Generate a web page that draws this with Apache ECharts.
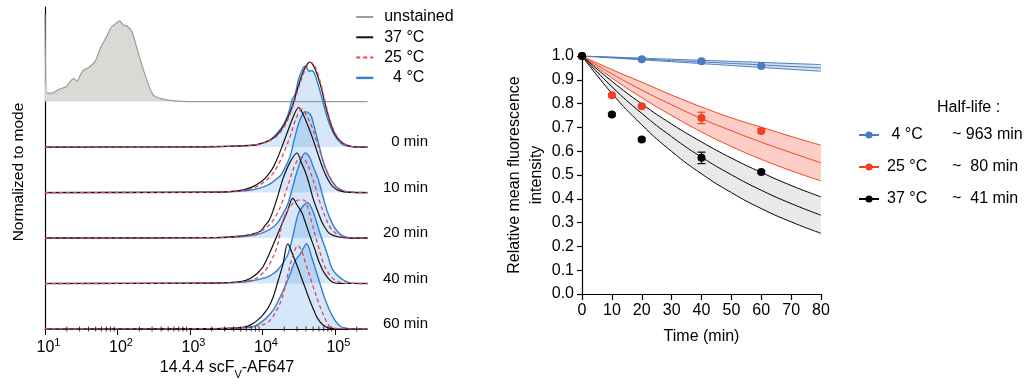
<!DOCTYPE html>
<html>
<head>
<meta charset="utf-8">
<script src="https://cdn.jsdelivr.net/npm/echarts@6/dist/echarts.min.js"></script>
<style>
  html, body { margin: 0; padding: 0; background: #fff; }
  #chart { width: 1031px; height: 389px; }
</style>
</head>
<body>
<div id="chart"></div>
<script>
// ---------- left panel: histograms, [log10 intensity, % of mode]
const unstained = [[1.0,103],[1.025,10],[1.1,10],[1.18,14],[1.3,18],[1.36,25],[1.4,27],[1.44,24],[1.52,36],[1.6,40],[1.69,47],[1.76,62],[1.84,75],[1.92,88],[1.98,92],[2.03,95],[2.08,90],[2.13,89],[2.2,82],[2.27,62],[2.34,42],[2.41,24],[2.49,8],[2.6,3.5],[2.75,1.2],[2.9,0.3],[3.1,0],[5.45,0]];

const black0 = [[1.0,0],[3.2,0.3],[3.6,1],[3.9,2.4],[4.0,4.7],[4.1,8],[4.2,14],[4.3,26],[4.4,45],[4.5,73],[4.58,92],[4.655,100],[4.72,93],[4.8,73],[4.9,39],[5.0,15],[5.1,5],[5.2,1.2],[5.3,0.2],[5.45,0]];
const red0 = [[1.0,0],[3.2,0.3],[3.6,1],[3.9,2.3],[4.0,4.5],[4.1,7.5],[4.2,13],[4.3,24],[4.4,43],[4.5,70],[4.59,91],[4.665,100],[4.73,94],[4.8,76],[4.9,42],[5.0,17],[5.1,5.5],[5.2,1.4],[5.3,0.2],[5.45,0]];
const blue0 = [[1.0,0],[3.2,0.4],[3.6,1.2],[3.9,2.6],[4.0,4.7],[4.1,8],[4.2,16],[4.3,28],[4.36,40],[4.41,56],[4.45,62],[4.5,80],[4.56,93],[4.6,95],[4.64,89],[4.68,90],[4.72,86],[4.8,64],[4.9,33],[5.0,13],[5.1,3.5],[5.2,1],[5.3,0.2],[5.45,0]];

const black10 = [[1.0,0],[3.3,0.4],[3.6,1.5],[3.75,3.5],[3.87,7],[4.0,14],[4.06,19],[4.13,27],[4.2,39],[4.27,54],[4.34,70],[4.42,88],[4.5,100],[4.56,92],[4.63,78],[4.7,62],[4.77,44],[4.84,27],[4.9,16],[4.97,7],[5.07,2],[5.2,0.3],[5.45,0]];
const red10 = [[1.0,0],[3.3,0.4],[3.6,1.4],[3.8,3.5],[3.9,6],[4.0,11],[4.1,18],[4.18,27],[4.25,38],[4.32,52],[4.39,68],[4.46,86],[4.545,98],[4.6,92],[4.67,80],[4.74,63],[4.81,44],[4.88,27],[4.95,15],[5.02,7],[5.1,2.5],[5.2,0.5],[5.45,0]];
const blue10 = [[1.0,0],[3.3,0.4],[3.6,1.2],[3.8,2.5],[3.95,5],[4.08,9],[4.18,15],[4.25,20],[4.31,29],[4.38,42],[4.45,66],[4.52,86],[4.59,95],[4.66,92],[4.7,82],[4.77,59],[4.86,31],[4.96,13],[5.07,3.5],[5.2,0.6],[5.45,0]];

const black20 = [[1.0,0],[3.3,0.4],[3.69,2.4],[3.85,4.5],[3.97,8],[4.03,14],[4.1,22],[4.2,46],[4.28,69],[4.38,89],[4.476,100],[4.53,90],[4.59,78],[4.65,62],[4.7,46],[4.76,32],[4.82,19],[4.88,10],[4.93,5],[5.05,1.2],[5.2,0],[5.45,0]];
const red20 = [[1.0,0],[3.3,0.4],[3.7,2],[3.9,5],[4.0,9],[4.1,16],[4.2,28],[4.28,44],[4.36,64],[4.44,84],[4.53,95],[4.6,90],[4.66,78],[4.73,60],[4.8,40],[4.87,24],[4.94,12],[5.02,5],[5.1,1.5],[5.2,0.3],[5.45,0]];
const blue20 = [[1.0,0],[3.3,0.4],[3.7,1.5],[3.9,3.5],[4.0,6],[4.1,10],[4.2,17],[4.28,28],[4.35,40],[4.42,61],[4.5,84],[4.59,100],[4.65,95],[4.7,84],[4.77,69],[4.84,47],[4.9,30],[4.97,16],[5.04,7],[5.12,2.2],[5.2,0.5],[5.45,0]];

const black40 = [[1.0,0],[3.3,0.4],[3.65,1.8],[3.78,4],[3.87,8],[3.94,13],[4.01,20],[4.1,36],[4.17,50],[4.24,64],[4.34,84],[4.42,100],[4.48,92],[4.54,84],[4.6,70],[4.66,55],[4.72,41],[4.77,28],[4.83,16],[4.89,8],[4.97,1.5],[5.1,0],[5.45,0]];
const red40 = [[1.0,0],[3.3,0.4],[3.7,1.8],[3.85,4],[3.95,8],[4.08,20],[4.2,43],[4.28,73],[4.36,88],[4.43,95],[4.49,98],[4.57,98],[4.63,88],[4.68,72],[4.77,44],[4.86,20],[4.96,7],[5.05,2],[5.15,0.3],[5.45,0]];
const blue40 = [[1.0,0],[3.3,0.4],[3.7,1.5],[3.9,4],[4.0,6],[4.08,8],[4.21,16],[4.34,32],[4.41,52],[4.49,81],[4.55,90],[4.62,95],[4.7,84],[4.79,60],[4.89,36],[4.97,16],[5.1,5],[5.2,1],[5.3,0.2],[5.45,0]];

const black60 = [[1.0,0],[3.3,0.4],[3.6,1],[3.76,2.4],[3.86,6],[3.94,11],[4.01,17],[4.08,25],[4.15,38],[4.21,55],[4.28,75],[4.35,100],[4.42,87],[4.48,74],[4.54,60],[4.6,46],[4.66,32],[4.71,22],[4.75,14],[4.83,5],[4.92,1],[5.05,0],[5.45,0]];
const red60 = [[1.0,0],[3.3,0.4],[3.7,1.5],[3.9,3.5],[4.0,5],[4.08,8],[4.17,18],[4.27,36],[4.35,64],[4.42,86],[4.49,98],[4.54,92],[4.59,79],[4.68,55],[4.77,32],[4.86,13],[4.93,3],[5.05,0.5],[5.45,0]];
const blue60 = [[1.0,0],[3.3,0.4],[3.7,1.2],[3.86,2.4],[3.95,6],[4.03,11],[4.1,17],[4.17,25],[4.28,44],[4.38,64],[4.45,80],[4.52,88],[4.61,100],[4.68,84],[4.77,60],[4.86,36],[4.96,16],[5.07,3.5],[5.2,0.5],[5.45,0]];

const rowLabels = ['0 min', '10 min', '20 min', '40 min', '60 min'];
const rowBlack = [black0, black10, black20, black40, black60];
const rowRed = [red0, red10, red20, red40, red60];
const rowBlue = [blue0, blue10, blue20, blue40, blue60];

// ---------- right panel: decay
const timeBlue = [0, 20, 40, 60];
const meanBlue = [1.0, 0.986, 0.978, 0.958];
const semBlue = [0, 0.004, 0.004, 0.005];
const timeRed = [0, 10, 20, 40, 60];
const meanRed = [1.0, 0.835, 0.789, 0.74, 0.685];
const semRed = [0, 0.006, 0.006, 0.024, 0.008];
const timeBlack = [0, 10, 20, 40, 60];
const meanBlack = [1.0, 0.754, 0.649, 0.572, 0.513];
const semBlack = [0, 0.006, 0.006, 0.024, 0.006];

const fitT = [0, 10, 20, 30, 40, 50, 60, 70, 80];
const fit4 = [1, 0.994, 0.9875, 0.981, 0.975, 0.969, 0.9625, 0.956, 0.95];
const hi4 = [1, 0.9955, 0.991, 0.9865, 0.982, 0.9775, 0.973, 0.9685, 0.964];
const lo4 = [1, 0.992, 0.984, 0.976, 0.968, 0.96, 0.952, 0.944, 0.936];
const fit25 = [1, 0.925, 0.857, 0.795, 0.737, 0.686, 0.638, 0.594, 0.551];
const hi25 = [1, 0.943, 0.89, 0.836, 0.786, 0.74, 0.701, 0.662, 0.625];
const lo25 = [1, 0.908, 0.825, 0.75, 0.681, 0.62, 0.566, 0.518, 0.475];
const fit37 = [1, 0.871, 0.759, 0.661, 0.575, 0.501, 0.436, 0.38, 0.331];
const hi37 = [1, 0.894, 0.799, 0.714, 0.639, 0.571, 0.511, 0.456, 0.408];
const lo37 = [1, 0.843, 0.711, 0.599, 0.505, 0.426, 0.359, 0.303, 0.255];

const tempLabels = [' 4 °C', '25 °C', '37 °C'];
const halfLives = ['~ 963 min', '~  80 min', '~  41 min'];

const FONT = 'Liberation Sans, Arial, sans-serif';
const PEAK = 1.87;      // height of 100 % of mode, in row units
const BLUE_L = '#2f7fd6', RED_L = '#e8434c';
const BLUE_R = '#4a7cc2', RED_R = '#f1401f';

const chart = echarts.init(document.getElementById('chart'));

function toXY(pts, off) {
  return pts.map(p => [Math.pow(10, p[0]), off + p[1] / 100 * PEAK]);
}

const series = [];

// unstained on top row
series.push({
  type: 'line', name: 'unstained', xAxisIndex: 0, yAxisIndex: 0,
  data: toXY(unstained, 5), smooth: 0.2, symbol: 'none', silent: true,
  itemStyle: { color: '#9b9b9b' },
  lineStyle: { color: '#9b9b9b', width: 1.2 },
  areaStyle: { color: '#d9d9d5', opacity: 1, origin: 5 }
});

for (let i = 0; i < rowLabels.length; i++) {
  const off = 4 - i;
  series.push({
    type: 'line', name: '4 °C', xAxisIndex: 0, yAxisIndex: 0,
    data: toXY(rowBlue[i], off), smooth: 0.35, symbol: 'none', silent: true,
    itemStyle: { color: BLUE_L },
    lineStyle: { color: BLUE_L, width: 1.4 },
    areaStyle: { color: 'rgba(60,140,225,0.3)', origin: off }
  });
  series.push({
    type: 'line', name: '37 °C', xAxisIndex: 0, yAxisIndex: 0,
    data: toXY(rowBlack[i], off), smooth: 0.35, symbol: 'none', silent: true,
    itemStyle: { color: '#111' },
    lineStyle: { color: '#111', width: 1.2 }
  });
  series.push({
    type: 'line', name: '25 °C', xAxisIndex: 0, yAxisIndex: 0,
    data: toXY(rowRed[i], off), smooth: 0.35, symbol: 'none', silent: true,
    itemStyle: { color: RED_L },
    lineStyle: { color: RED_L, width: 1.3, type: [4, 3] }
  });
}

// log minor ticks on the left x axis
const minorTicks = [];
for (let k = 1; k <= 5; k++) {
  for (let d = 2; d <= 9; d++) {
    if (d * Math.pow(10, k) < 277000) minorTicks.push([d * Math.pow(10, k), 0]);
  }
}
series.push({
  type: 'scatter', xAxisIndex: 0, yAxisIndex: 0, data: minorTicks, silent: true,
  symbol: 'rect', symbolSize: [1, 5], itemStyle: { color: '#000' }, z: 10
});

// right panel bands, fits, points
const temps = [
  { key: 'hl4', color: BLUE_R, band: 'rgba(75,123,192,0.22)', fit: fit4, hi: hi4, lo: lo4, t: timeBlue, m: meanBlue, s: semBlue },
  { key: 'hl25', color: RED_R, band: 'rgba(245,80,50,0.28)', fit: fit25, hi: hi25, lo: lo25, t: timeRed, m: meanRed, s: semRed },
  { key: 'hl37', color: '#000', band: '#e9e9e9', fit: fit37, hi: hi37, lo: lo37, t: timeBlack, m: meanBlack, s: semBlack }
];

// confidence band: polygon between the upper and lower fit lines
temps.forEach(tp => {
  series.push({
    type: 'custom', xAxisIndex: 1, yAxisIndex: 1, silent: true, z: 1,
    data: [[0, 1]],
    renderItem: function (params, api) {
      const pts = [];
      fitT.forEach((t, j) => pts.push(api.coord([t, tp.hi[j]])));
      for (let j = fitT.length - 1; j >= 0; j--) pts.push(api.coord([fitT[j], tp.lo[j]]));
      return { type: 'polygon', shape: { points: pts }, style: { fill: tp.band } };
    }
  });
});

temps.forEach(tp => {
  series.push({
    type: 'line', name: tp.key, xAxisIndex: 1, yAxisIndex: 1, silent: true,
    data: fitT.map((t, j) => [t, tp.fit[j]]), smooth: true,
    symbol: 'circle', symbolSize: 8, showSymbol: false,
    itemStyle: { color: tp.color }, lineStyle: { color: tp.color, width: 1 }
  });
  [tp.hi, tp.lo].forEach(arr => {
    series.push({
      type: 'line', xAxisIndex: 1, yAxisIndex: 1, silent: true,
      data: fitT.map((t, j) => [t, arr[j]]), smooth: true, symbol: 'none',
      lineStyle: { color: tp.color, width: 1 }
    });
  });
});

temps.forEach(tp => {
  series.push({
    type: 'custom', xAxisIndex: 1, yAxisIndex: 1, silent: true, z: 5,
    data: tp.t.map((t, j) => [t, tp.m[j], tp.s[j]]),
    renderItem: function (params, api) {
      const x = api.value(0), y = api.value(1), e = api.value(2);
      const a = api.coord([x, y + e]), b = api.coord([x, y - e]);
      const st = { stroke: tp.color, lineWidth: 1.2 };
      return {
        type: 'group', children: [
          { type: 'line', shape: { x1: a[0], y1: a[1], x2: b[0], y2: b[1] }, style: st },
          { type: 'line', shape: { x1: a[0] - 4, y1: a[1], x2: a[0] + 4, y2: a[1] }, style: st },
          { type: 'line', shape: { x1: b[0] - 4, y1: b[1], x2: b[0] + 4, y2: b[1] }, style: st }
        ]
      };
    }
  });
  series.push({
    type: 'scatter', xAxisIndex: 1, yAxisIndex: 1, silent: true, z: 6,
    data: tp.t.map((t, j) => [t, tp.m[j]]), symbol: 'circle', symbolSize: 8,
    itemStyle: { color: tp.color, opacity: 1 }
  });
});

const axisTxt = { color: '#000', fontFamily: FONT, fontSize: 16 };

const option = {
  animation: false,
  backgroundColor: '#fff',
  textStyle: { fontFamily: FONT },
  grid: [
    { left: 45, top: 7, width: 322, height: 322 },
    { left: 582, top: 56, width: 239, height: 238 }
  ],
  xAxis: [
    {
      type: 'log', logBase: 10, gridIndex: 0, min: 10, max: 277000,
      axisLine: { show: true, lineStyle: { color: '#000', width: 1.2 } },
      axisTick: { show: true, length: 6, lineStyle: { color: '#000', width: 1 } },
      splitLine: { show: false },
      axisLabel: {
        margin: 8, showMaxLabel: false,
        formatter: v => '{p|}{b|10}{s|' + Math.round(Math.log10(v)) + '}',
        rich: {
          p: { width: 7 },
          b: { fontSize: 16, color: '#000', fontFamily: FONT, verticalAlign: 'bottom' },
          s: { fontSize: 11, color: '#000', fontFamily: FONT, verticalAlign: 'bottom', padding: [0, 0, 8, 0] }
        }
      }
    },
    {
      type: 'value', gridIndex: 1, min: 0, max: 80, interval: 10,
      axisLine: { show: true, lineStyle: { color: '#000', width: 1.2 } },
      axisTick: { show: true, length: 6, lineStyle: { color: '#000', width: 1.2 } },
      splitLine: { show: false },
      axisLabel: Object.assign({ margin: 9 }, axisTxt),
      name: 'Time (min)', nameLocation: 'middle', nameGap: 35,
      nameTextStyle: axisTxt
    }
  ],
  yAxis: [
    {
      type: 'value', gridIndex: 0, min: 0, max: 7.08,
      axisLine: { show: true, lineStyle: { color: '#000', width: 1.2 } },
      axisTick: { show: false }, axisLabel: { show: false }, splitLine: { show: false },
      name: 'Normalized to mode', nameLocation: 'middle', nameGap: 18,
      nameTextStyle: { color: '#000', fontFamily: FONT, fontSize: 15.5, padding: [0, 8, 0, 0] }
    },
    {
      type: 'value', gridIndex: 1, min: 0, max: 1, interval: 0.1,
      axisLine: { show: true, lineStyle: { color: '#000', width: 1.2 } },
      axisTick: { show: true, length: 5, lineStyle: { color: '#000', width: 1.2 } },
      splitLine: { show: false },
      axisLabel: Object.assign({ margin: 8, formatter: v => v.toFixed(1) }, axisTxt),
      name: 'Relative mean fluorescence\nintensity', nameLocation: 'middle', nameGap: 33,
      nameTextStyle: Object.assign({ lineHeight: 22 }, axisTxt)
    }
  ],
  legend: [
    {
      orient: 'vertical', left: 350, top: 4, itemWidth: 17, itemHeight: 10, itemGap: 4.3,
      selectedMode: false,
      itemStyle: { opacity: 0 },
      data: ['unstained', '37 °C', '25 °C', { name: '4 °C', lineStyle: { width: 2.4 } }],
      formatter: n => (n === '4 °C' ? '  4 °C' : n),
      textStyle: { color: '#000', fontFamily: FONT, fontSize: 16, padding: [0, 0, 0, 6] }
    },
    {
      orient: 'vertical', left: 853, top: 122, itemWidth: 20, itemHeight: 9, itemGap: 16,
      selectedMode: false,
      data: temps.map(t => t.key),
      formatter: n => {
        const i = temps.findIndex(t => t.key === n);
        return '{a|' + tempLabels[i] + '}{b|' + halfLives[i] + '}';
      },
      textStyle: {
        color: '#000', fontFamily: FONT, fontSize: 16, padding: [0, 0, 0, 3],
        rich: {
          a: { width: 65, fontSize: 16, fontFamily: FONT, color: '#000' },
          b: { fontSize: 16, fontFamily: FONT, color: '#000' }
        }
      }
    }
  ],
  series: series
};

chart.setOption(option);

// text placed relative to the axes
const graphics = [];
rowLabels.forEach((lab, i) => {
  const p = chart.convertToPixel({ gridIndex: 0 }, [277000, 4 - i]);
  graphics.push({
    type: 'text', x: 428, y: p[1] - 5,
    style: { text: lab, fill: '#000', font: '15px ' + FONT, textAlign: 'right', textVerticalAlign: 'middle' }
  });
});
graphics.push({
  type: 'text', x: 227, y: 370,
  style: {
    text: '{m|14.4.4 scF}{sub|V}{m|-AF647}', textAlign: 'center', textVerticalAlign: 'middle',
    rich: {
      m: { fontSize: 16, fontFamily: FONT, fill: '#000', verticalAlign: 'bottom', padding: [0, 0, 4, 0] },
      sub: { fontSize: 11, fontFamily: FONT, fill: '#000', verticalAlign: 'bottom' }
    }
  }
});
graphics.push({
  type: 'text', x: 937, y: 108,
  style: { text: 'Half-life :', fill: '#000', font: '16px ' + FONT, textVerticalAlign: 'middle' }
});
chart.setOption({ graphic: graphics });
</script>
</body>
</html>
